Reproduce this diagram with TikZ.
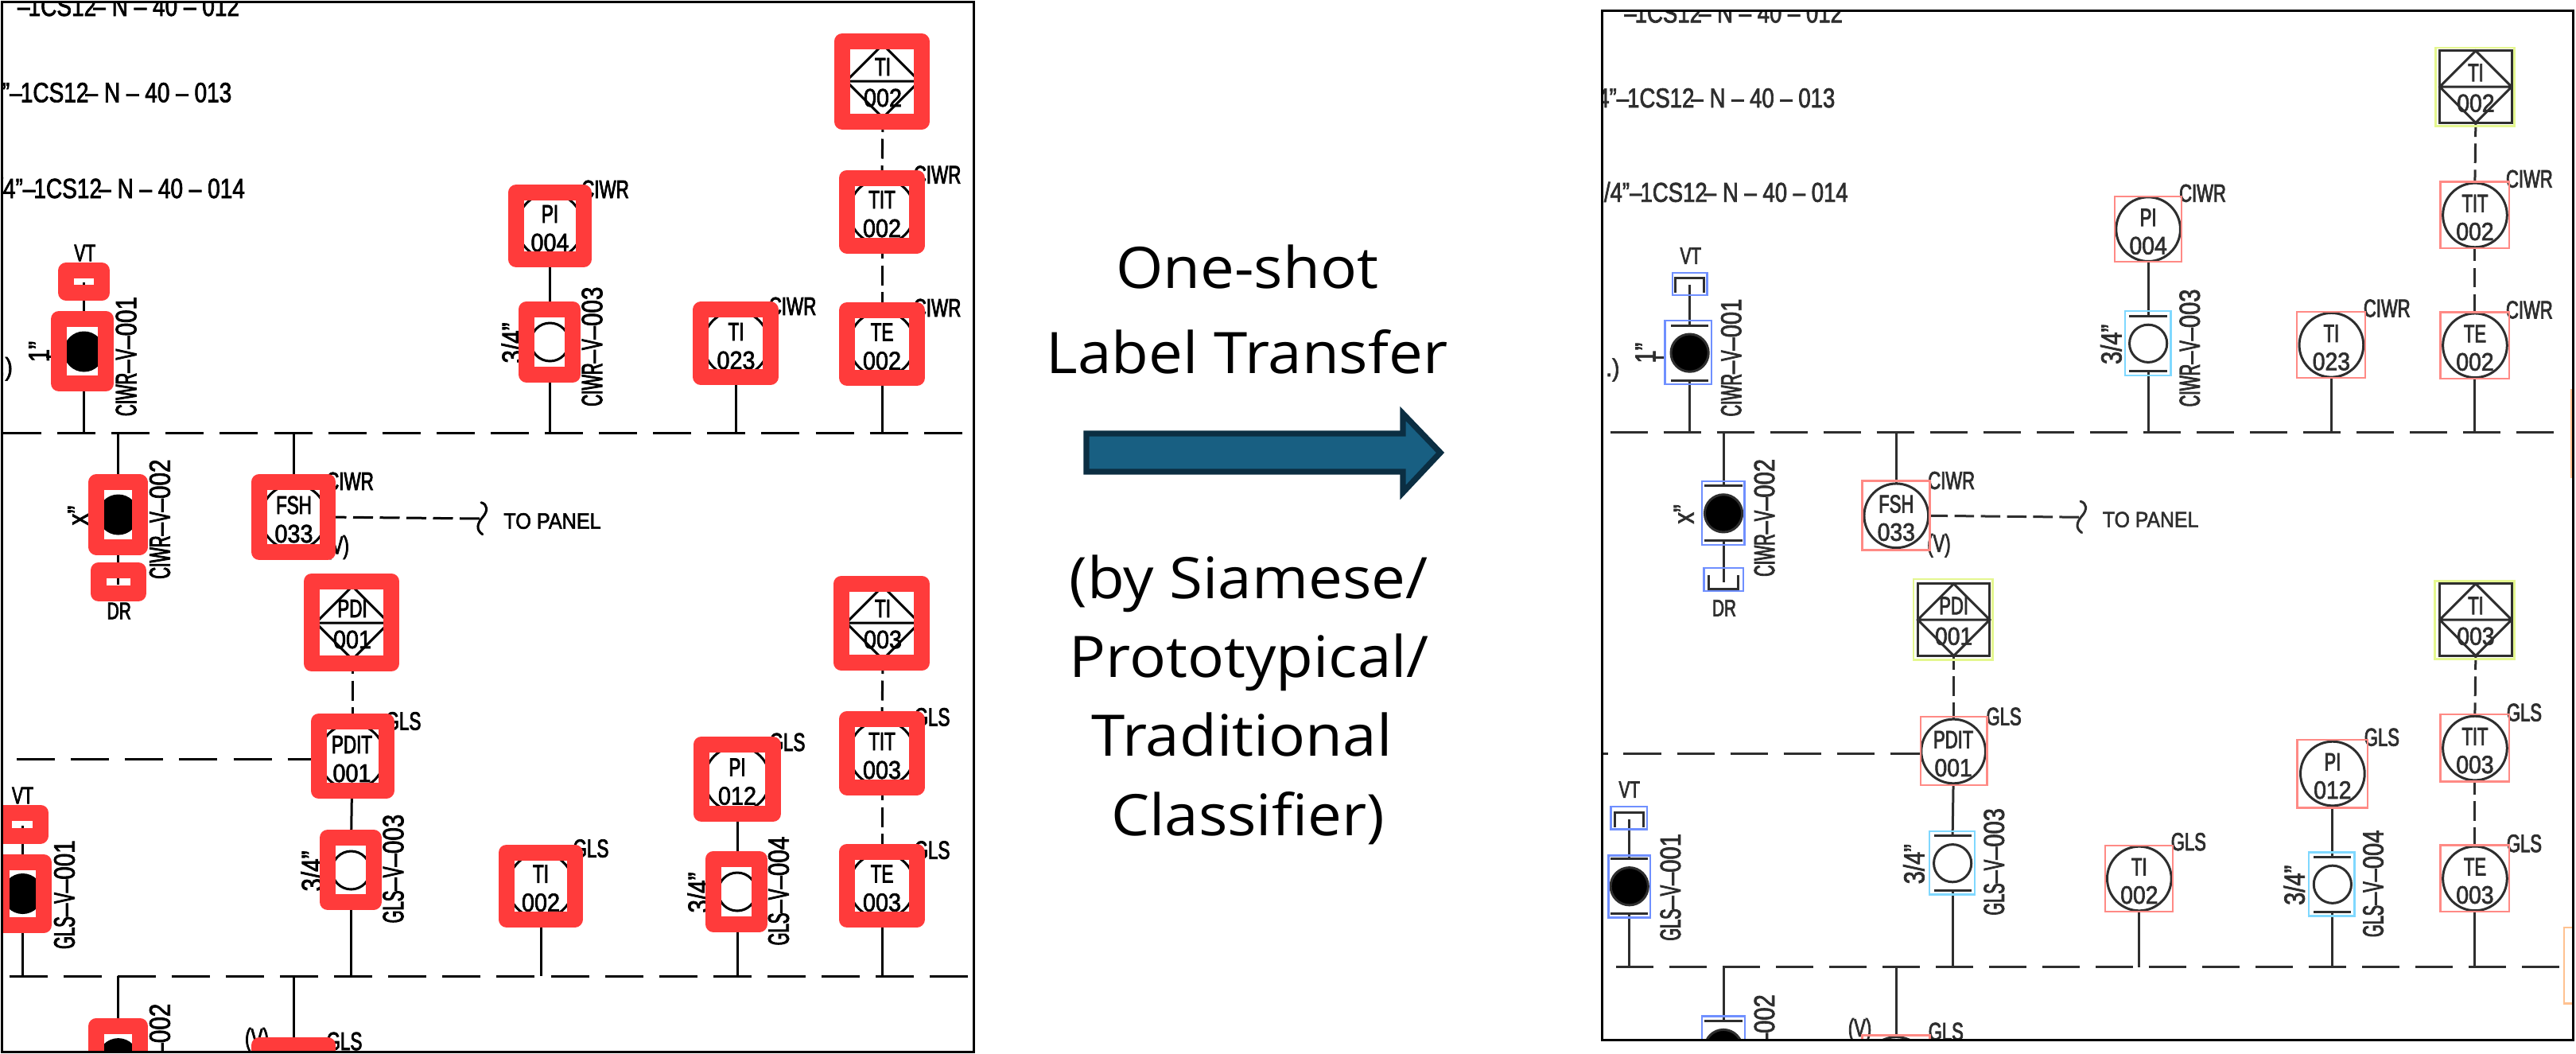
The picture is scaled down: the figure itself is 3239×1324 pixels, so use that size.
\documentclass[tikz,border=0pt]{standalone}
\usepackage{fontspec}
\setmainfont[FakeStretch=1.06]{Open Sans}
\newfontfamily\fH[FakeStretch=0.70,FakeBold=2.5]{Liberation Sans}
\newfontfamily\fHd[FakeStretch=0.90,FakeBold=2]{Liberation Sans}
\newfontfamily\fV[FakeStretch=0.55,FakeBold=2.5]{Liberation Sans}
\newfontfamily\fVd[FakeStretch=0.80,FakeBold=2]{Liberation Sans}
\newfontfamily\fT[FakeStretch=0.80,FakeBold=2]{Liberation Sans}
\newfontfamily\fP[FakeStretch=0.90,FakeBold=2]{Liberation Sans}
\newcommand\tH[1]{{\fH\fontsize{16}{18}\selectfont #1}}
\newcommand\tS[1]{{\fH\fontsize{15}{17}\selectfont #1}}
\newcommand\tD[1]{{\fHd\fontsize{16}{18}\selectfont #1}}
\newcommand\tT[1]{{\fT\fontsize{17.5}{19}\selectfont #1}}
\newcommand\tP[1]{{\fP\fontsize{14}{16}\selectfont #1}}
\newcommand\rL[2]{{\fV\fontsize{18.5}{20}\selectfont #1}{\fVd\fontsize{18.5}{20}\selectfont #2}}
\newcommand\rS[1]{{\fVd\fontsize{18.5}{20}\selectfont #1}}
\newcommand\pipeline[1]{–\kern-1pt 1CS12\kern-2pt–\kern4pt N – 40 – #1}
\definecolor{redthick}{HTML}{FF3B3B}
\definecolor{boxblue}{HTML}{6F8FFF}
\definecolor{boxcyan}{HTML}{7FD8FF}
\definecolor{boxred}{HTML}{FF8A85}
\definecolor{boxyel}{HTML}{E4F78F}
\definecolor{boxorg}{HTML}{FFC291}
\definecolor{arrowfill}{HTML}{185F82}
\definecolor{arrowline}{HTML}{0B2E42}
\newdimen\uu
\tikzset{
  lab/.style={inner sep=0pt,outer sep=0pt,transform shape},
  instc/.style={circle,draw=\ink,line width=1.5pt,minimum size=41pt,inner sep=0pt,outer sep=0pt,transform shape},
  valvo/.style={circle,draw=\ink,line width=1.5pt,minimum size=24pt,inner sep=0pt,outer sep=0pt,transform shape},
  valvf/.style={valvo,fill=black},
  sq/.style={rectangle,draw=\ink,line width=1.5pt,minimum size=46pt,inner sep=0pt,outer sep=0pt,transform shape},
  wire/.style={draw=\ink,line width=1.5pt},
  mainl/.style={wire,dash pattern=on \mon off \moff},
  ctl/.style={wire,dash pattern=on \con off \coff,dash phase=\cph},
}
\newcommand\instr[5]{%
  \node[instc] (#1) at (#2,#3) {};
  \node[lab,anchor=base,text=\ink] (#1t) at (#2,#3-4) {\tH{#4}};
  \node[lab,anchor=base,text=\ink] (#1n) at (#2,#3+32) {\tD{#5}};}
\newcommand\diam[5]{%
  \node[sq] (#1) at (#2,#3) {};
  \draw[wire] (#1.north)--(#1.east)--(#1.south)--(#1.west)--cycle (#1.west)--(#1.east);
  \node[lab,anchor=base,text=\ink] (#1t) at (#2,#3-7) {\tH{#4}};
  \node[lab,anchor=base,text=\ink] (#1n) at (#2,#3+32) {\tD{#5}};}
\newcommand\valve[4]{%
  \node[#4] (#1) at (#2,#3) {};
  \coordinate (#1a) at (#2,#3-35);
  \coordinate (#1b) at (#2,#3+35);
  \draw[wire] ([xshift=-12pt]#1a)--([xshift=12pt]#1a);
  \draw[wire] ([xshift=-12pt]#1b)--([xshift=12pt]#1b);}
\newcommand\capdn[3]{%
  \coordinate (#1) at (#2,#3);
  \draw[wire] (#2-18.5,#3+10)--(#2-18.5,#3-9)--(#2+18.5,#3-9)--(#2+18.5,#3+10);}
\newcommand\capup[3]{%
  \coordinate (#1) at (#2,#3);
  \draw[wire] (#2-19,#3-9)--(#2-19,#3+9)--(#2+19,#3+9)--(#2+19,#3-9);}
\newcommand\tagl[5]{\node[lab,text=\ink,rotate=#5] (#1) at (#2,#3) {#4};}
\newcommand\schem{%
  \edef\mon{\the\dimexpr48\uu}\edef\moff{\the\dimexpr201\uu/10}%
  \edef\con{\the\dimexpr25\uu}\edef\coff{\the\dimexpr85\uu/10}\edef\cph{\the\dimexpr7\uu}%
  % text lines
  \node[lab,anchor=base west,text=\ink] (p12) at (22,20) {\tT{\pipeline{012}}};
  \node[lab,anchor=base west,text=\ink] (p13) at (-36,128.4) {\tT{3/4”\pipeline{013}}};
  \node[lab,anchor=base west,text=\ink] (p14) at (-19.4,249) {\tT{3/4”\pipeline{014}}};
  \node[lab,anchor=base east,text=\ink] (par) at (16,472) {\tD{.)}};
  % main lines
  \coordinate (m1a) at (4,544); \coordinate (m1b) at (1210,544);
  \coordinate (m2a) at (11.5,1227); \coordinate (m2b) at (1218.5,1227);
  \coordinate (m3a) at (-47,954);
  \draw[mainl] (m1a)--(m1b);
  \draw[mainl] (m2a)--(m2b);
  % instruments
  \diam{tia}{1110}{102}{TI}{002}
  \instr{tita}{1109}{266}{TIT}{002}
  \instr{tea}{1109}{432.5}{TE}{002}
  \instr{tib}{925.5}{432}{TI}{023}
  \instr{pia}{691.5}{284}{PI}{004}
  \instr{fsha}{369.5}{650}{FSH}{033}
  \diam{pdi}{443}{783}{PDI}{001}
  \instr{pdit}{442.5}{951}{PDIT}{001}
  \instr{pib}{927}{979.5}{PI}{012}
  \diam{tic}{1110}{783}{TI}{003}
  \instr{titb}{1109}{947}{TIT}{003}
  \instr{teb}{1109}{1113.5}{TE}{003}
  \instr{tid}{680}{1113.6}{TI}{002}
  \node[instc] (fshb) at (369.5,1357) {};
  \valve{va}{105.6}{442}{valvf}
  \valve{vb}{148.7}{647}{valvf}
  \valve{vc}{691.5}{430}{valvo}
  \valve{vd}{28.5}{1123.5}{valvf}
  \valve{ve}{441.5}{1094}{valvo}
  \valve{vf}{927}{1121}{valvo}
  \valve{vg}{148.7}{1330.6}{valvf}
  \capdn{vta}{105.6}{355}
  \capup{dra}{148.7}{735}
  \capdn{vtb}{28.5}{1038}
  % connectors
  \draw[wire] (tea.south)--(tea.south |- m1a);
  \draw[wire] (tib.south)--(tib.south |- m1a);
  \draw[wire] (pia.south)--(vca);
  \draw[wire] (vcb)--(vcb |- m1a);
  \draw[wire] (vta) -- (vaa) (vab)--(vab |- m1a);
  \draw[wire] (vb |- m1a)--(vba) (vbb)--(dra);
  \draw[wire] (fsha.north)--(fsha.north |- m1a);
  \draw[ctl] (tia.south)--(tita.north);
  \draw[ctl] (tita.south)--(tea.north);
  \draw[ctl] (tic.south)--(titb.north);
  \draw[ctl] (titb.south)--(teb.north);
  \draw[ctl] (pdi.south)--(pdi.south |- pdit.north);
  \draw[wire] (pdit.south)--(vea);
  \draw[wire] (veb)--(veb |- m2a);
  \draw[wire] (pib.south)--(vfa);
  \draw[wire] (vfb)--(vfb |- m2a);
  \draw[wire] (teb.south)--(teb.south |- m2a);
  \draw[wire] (tid.south)--(tid.south |- m2a);
  \draw[wire] (vtb)--(vda) (vdb)--(vdb |- m2a);
  \draw[wire] (vg |- m2a)--(vga);
  \draw[wire] (fshb.north)--(fshb.north |- m2a);
  \draw[mainl] (m3a)--(m3a -| pdit.west);
  \coordinate (curl) at (604,652);
  \coordinate (curla) at (605,631.7);
  \coordinate (curlb) at (606.7,671.7);
  \draw[ctl,dash phase=0pt] (fsha.east)--(curl);
  \draw[wire,line cap=round] (curla) .. controls (613,634) and (614,642) .. (607,650)
     .. controls (600,658) and (598,666) .. (curlb);
  \draw[wire] (58,448)--(72,448);
  % tags
  \tagl{ca}{761}{238}{\tH{CIWR}}{0}
  \tagl{cb}{1178.5}{219.7}{\tH{CIWR}}{0}
  \tagl{cc}{996.5}{385}{\tH{CIWR}}{0}
  \tagl{cd}{1178.5}{387}{\tH{CIWR}}{0}
  \tagl{ce}{440}{605}{\tH{CIWR}}{0}
  \tagl{ga}{507}{906.5}{\tH{GLS}}{0}
  \tagl{gb}{990}{933}{\tH{GLS}}{0}
  \tagl{gc}{1172}{901.4}{\tH{GLS}}{0}
  \tagl{gd}{1172}{1068.7}{\tH{GLS}}{0}
  \tagl{ge}{743}{1066.6}{\tH{GLS}}{0}
  \tagl{gf}{433}{1309}{\tH{GLS}}{0}
  \tagl{pva}{424}{688}{\tH{(V)}}{0}
  \tagl{pvb}{323}{1307}{\tH{(V)}}{0}
  \tagl{vt1}{106.8}{318}{\tS{VT}}{0}
  \tagl{vt2}{28.5}{1000}{\tS{VT}}{0}
  \tagl{dr1}{149.7}{768}{\tS{DR}}{0}
  \tagl{panel}{694.5}{655}{\tP{TO PANEL}}{0}
  \tagl{r1}{158.6}{448}{\rL{CIWR}{–}\rL{V}{–001}}{90}
  \tagl{r2}{201}{652.6}{\rL{CIWR}{–}\rL{V}{–002}}{90}
  \tagl{r3}{744.5}{435.6}{\rL{CIWR}{–}\rL{V}{–003}}{90}
  \tagl{r4}{81}{1124.6}{\rL{GLS}{–}\rL{V}{–001}}{90}
  \tagl{r5}{494.5}{1092}{\rL{GLS}{–}\rL{V}{–003}}{90}
  \tagl{r6}{979}{1120}{\rL{GLS}{–}\rL{V}{–004}}{90}
  \tagl{r7}{201}{1330}{\rL{GLS}{–}\rL{V}{–002}}{90}
  \tagl{s1}{49}{442}{\rS{1”}}{90}
  \tagl{s2}{98}{648}{\rS{x”}}{90}
  \tagl{s3}{98}{1333}{\rS{x”}}{90}
  \tagl{s4}{644}{431}{\rS{3/4”}}{90}
  \tagl{s5}{392}{1095}{\rS{3/4”}}{90}
  \tagl{s6}{878}{1122}{\rS{3/4”}}{90}
  % detection frames
  \foreach \a/\b/\c/\d in {1058.7/52.2/1159/152.6,391.5/731/492.3/834,1058/733.7/1159/833.4}
    \draw[frd] (\a,\b) rectangle (\c,\d);
  \foreach \a/\b/\c/\d in {648.7/242.4/734/325.8,1064.8/223.5/1152.6/308.5,1065/390/1153/475,881.4/389.3/968.8/474,326/605.6/412.4/694,400.5/907/485.6/994,881.8/936/972/1023,1064.8/904/1152.6/989.5,1064.8/1070.8/1152.6/1156,636.6/1071.7/723/1155.5,326/1314/412.4/1400}
    \draw[fri] (\a,\b) rectangle (\c,\d);
  \foreach \a/\b/\c/\d in {74/401/133.3/482,121.4/606/175.5/687.5,2/1084/55/1163.4,121.4/1289.6/176/1371,83.4/340/128/368.3,123.8/717/174/746,5/1021.5/51/1050.5}
    \draw[frv] (\a,\b) rectangle (\c,\d);
  \foreach \a/\b/\c/\d in {661.9/388.7/720.4/470.7,412/1053/469.5/1134,896.8/1080/955/1161.5}
    \draw[fro] (\a,\b) rectangle (\c,\d);
}
\begin{document}
\begin{tikzpicture}[x=0.5pt,y=-0.5pt]
\useasboundingbox (0,0) rectangle (3239,1324);
\fill[white] (0,0) rectangle (3239,1324);
% left panel
\begin{scope}[name prefix=L-]
  \uu=0.5pt
  \def\ink{black}
  \tikzset{
    redframe/.style={draw=redthick,line width=10pt,line join=round},
    frd/.style={redframe},fri/.style={redframe},frv/.style={redframe},fro/.style={redframe}}
  \begin{scope}
    \clip (2,2) rectangle (1224,1322);
    \schem
  \end{scope}
  \coordinate (fa) at (2,2); \coordinate (fb) at (1224,1322);
  \draw[black,line width=1.5pt] (fa) rectangle (fb);
\end{scope}
% right panel
\begin{scope}[name prefix=R-,shift={(2020.7,8.7)},scale=0.984]
  \uu=0.492pt
  \def\ink{black!82}
  \tikzset{
    frd/.style={draw=boxyel,line width=1.4pt},
    fri/.style={draw=boxred,line width=1.2pt},
    frv/.style={draw=boxblue,line width=1.2pt},
    fro/.style={draw=boxcyan,line width=1.2pt}}
  \begin{scope}
    \clip (-6.6,4.9) rectangle (1235,1320);
    \schem
    \draw[boxorg,line width=1.2pt] (1232,489) rectangle (1300,601);
    \draw[boxorg,line width=1.2pt] (1223,1176) rectangle (1300,1273);
  \end{scope}
  \coordinate (fa) at (-6.6,4.9); \coordinate (fb) at (1235,1320);
  \draw[black,line width=1.5pt] (fa) rectangle (fb);
\end{scope}
% centre
\fill[arrowfill,draw=arrowline,line width=3.7pt,miter limit=10]
  (1366,545)--(1764,545)--(1764,520)--(1811,569)--(1764,619)--(1764,593)--(1366,593)--cycle;
\tikzset{mid/.style={anchor=base,inner sep=0pt,font=\fontsize{36}{39}\selectfont}}
\node[mid] (t1) at (1568,362) {One-shot};
\node[mid] (t2) at (1568,469) {Label Transfer};
\node[mid] (t3) at (1570,752.7) {(by Siamese/};
\node[mid] (t4) at (1570.7,851) {Prototypical/};
\node[mid] (t5) at (1561.5,950) {Traditional};
\node[mid] (t6) at (1569,1050) {Classifier)};
\end{tikzpicture}
\end{document}
